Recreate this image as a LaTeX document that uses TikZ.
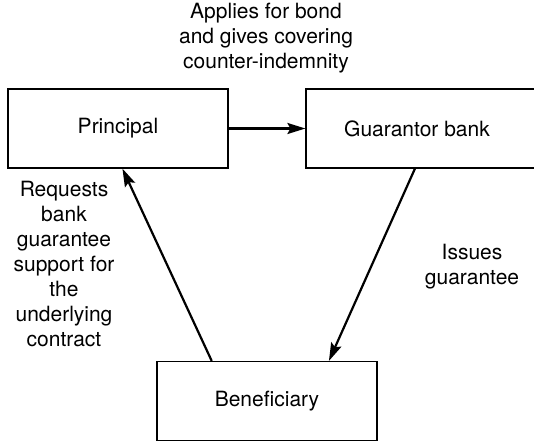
\documentclass[tikz,border=0pt]{standalone}
\usepackage{fontspec}
\setmainfont{TeX Gyre Heros}
\usetikzlibrary{arrows.meta, calc}

\begin{document}
\begin{tikzpicture}[x=0.5pt, y=-0.5pt,
  party/.style={draw, line width=0.6pt, minimum width=110pt, minimum height=39.5pt, inner sep=0pt},
  flow/.style={line width=1.1pt, -{Stealth[length=9pt, width=5.5pt, inset=1.5pt]}},
  note/.style={align=center, font=\fontsize{10.5}{12.5}\selectfont}]
\useasboundingbox (0,0) rectangle (534,442);
\clip (0,0) rectangle (534,442);

% Parties
\node[party, font=\fontsize{10.5}{12.5}\selectfont] (principal) at (118,128.5) {Principal};
\node[party, minimum width=117pt, font=\fontsize{10.5}{12.5}\selectfont] (guarantor) at (423,128.5) {};
\node[font=\fontsize{10.5}{12.5}\selectfont] (gname) at (417,128.5) {Guarantor bank};
\node[party, font=\fontsize{10.5}{12.5}\selectfont] (beneficiary) at (267,401) {Beneficiary};

% Anchor points on the box edges
\coordinate (prinin) at ($(principal.south west)!0.52!(principal.south east)$);
\coordinate (guarout) at (415,168.5);
\coordinate (benin) at ($(beneficiary.north west)!0.78!(beneficiary.north east)$);
\coordinate (benout) at ($(beneficiary.north west)!0.25!(beneficiary.north east)$);

% Flows
\draw[flow] (principal.east) -- (principal.east -| guarantor.west);
\draw[flow] (guarout) -- (benin);
\draw[flow] (benout) -- (prinin);

% Labels
\node[note] (applies) at (266,38) {Applies for bond\\and gives covering\\counter-indemnity};
\node[note] (requests) at (64,264) {Requests\\bank\\guarantee\\support for\\the\\underlying\\contract};
\node[note] (issues) at (472,267) {Issues\\guarantee};
\end{tikzpicture}
\end{document}
